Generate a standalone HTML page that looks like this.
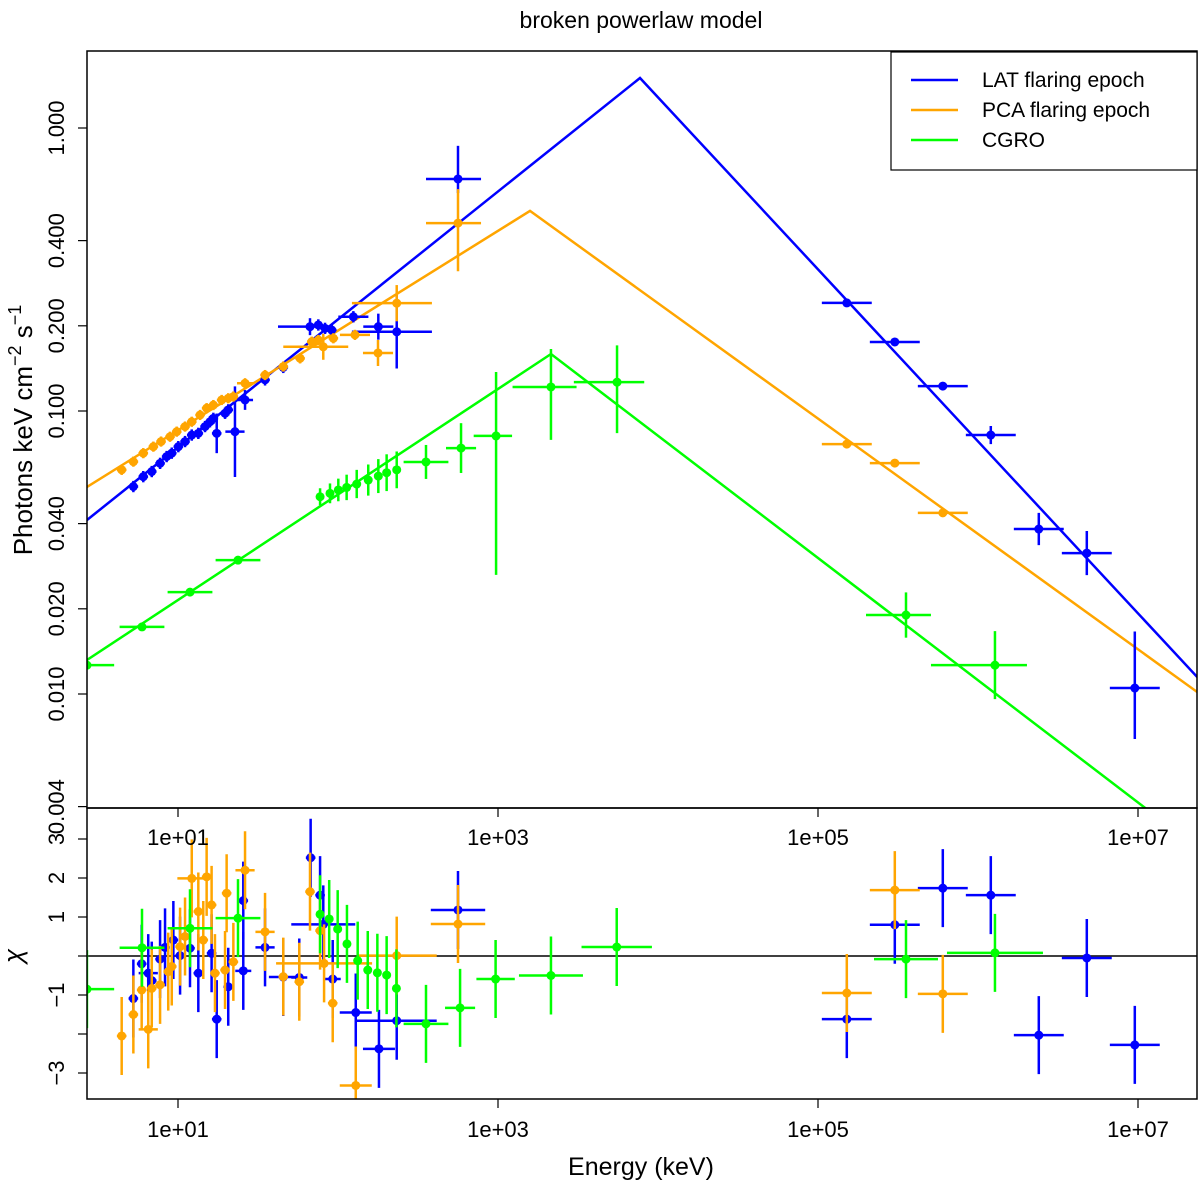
<!DOCTYPE html>
<html><head><meta charset="utf-8"><style>
html,body{margin:0;padding:0;background:#fff;}
svg text{font-family:"Liberation Sans",Arial,sans-serif;fill:#000;}
</style></head><body>
<svg id="chart" width="1200" height="1186" viewBox="0 0 1200 1186" xmlns="http://www.w3.org/2000/svg">
<defs>
<clipPath id="clipTop"><rect x="87" y="51" width="1110" height="757"/></clipPath>
<clipPath id="clipBot"><rect x="87" y="808" width="1110" height="291"/></clipPath>
</defs>
<rect x="0" y="0" width="1200" height="1186" fill="#fff"/>
<text x="641" y="28" font-size="23" text-anchor="middle">broken powerlaw model</text>
<text transform="translate(32,430) rotate(-90)" font-size="26" text-anchor="middle">Photons keV cm<tspan dy="-11" font-size="18">−2</tspan><tspan dy="11"> s</tspan><tspan dy="-11" font-size="18">−1</tspan></text>
<text transform="translate(22,956) rotate(-90)" font-size="26" text-anchor="middle" font-style="italic">χ</text>
<text x="641" y="1175" font-size="25" text-anchor="middle">Energy (keV)</text>
<g id="gTop" clip-path="url(#clipTop)"></g>
<g id="gBot" clip-path="url(#clipBot)"></g>
<g id="gAxes"></g>
<rect x="87" y="51" width="1110" height="757" fill="none" stroke="#000" stroke-width="1.5"/>
<rect x="87" y="808" width="1110" height="291" fill="none" stroke="#000" stroke-width="1.5"/>
<g>
<rect x="891" y="52" width="306" height="118" fill="#fff" stroke="#000" stroke-width="1.2"/>
<line x1="911" y1="80" x2="958" y2="80" stroke="#0000ff" stroke-width="2.5"/>
<text x="982" y="87" font-size="21">LAT flaring epoch</text>
<line x1="911" y1="110" x2="958" y2="110" stroke="#ffa500" stroke-width="2.5"/>
<text x="982" y="117" font-size="21">PCA flaring epoch</text>
<line x1="911" y1="140" x2="958" y2="140" stroke="#00ff00" stroke-width="2.5"/>
<text x="982" y="147" font-size="21">CGRO</text>
</g>
</svg>
<script>
// ---- model breakpoints (log10 keV, log10 flux) ----
const blueModelLogE=[0.431,3.8875,7.37];
const blueModelLogF=[-1.385,0.1767,-1.94];
const orangeModelLogE=[0.431,3.2,7.37];
const orangeModelLogF=[-1.2686,-0.293,-1.993];
const greenModelLogE=[0.431,3.331,7.37];
const greenModelLogF=[-1.88,-0.7986,-2.543];
// ---- LAT flaring epoch data ----
const blueLogE=[0.721,0.783,0.836,0.888,0.929,0.961,1.002,1.044,1.086,1.127,1.169,1.2,1.221,1.242,1.294,1.314,1.356,1.419,1.544,1.658,1.825,1.877,1.919,1.961,2.096,2.252,2.367,2.75,5.18,5.48,5.78,6.08,6.38,6.68,6.98];
const blueLogF=[-1.267,-1.232,-1.214,-1.185,-1.161,-1.149,-1.126,-1.108,-1.085,-1.079,-1.055,-1.038,-1.026,-1.079,-1.008,-0.996,-1.073,-0.961,-0.89,-0.846,-0.702,-0.696,-0.708,-0.714,-0.667,-0.702,-0.72,-0.18,-0.618,-0.756,-0.912,-1.085,-1.417,-1.502,-1.979];
const blueXLo=[0.03,0.03,0.03,0.03,0.03,0.03,0.03,0.03,0.03,0.03,0.03,0.03,0.03,0.03,0.03,0.03,0.06,0.05,0.03,0.03,0.2,0.03,0.03,0.03,0.094,0.094,0.28,0.2,0.156,0.156,0.156,0.156,0.156,0.156,0.156];
const blueXHi=[0.03,0.03,0.03,0.03,0.03,0.03,0.03,0.03,0.03,0.03,0.03,0.03,0.03,0.03,0.03,0.03,0.06,0.05,0.03,0.03,0.1,0.03,0.03,0.03,0.094,0.094,0.22,0.144,0.156,0.156,0.156,0.156,0.156,0.156,0.156];
const blueYLo=[0.02,0.02,0.02,0.02,0.02,0.02,0.02,0.02,0.02,0.02,0.02,0.02,0.02,0.07,0.02,0.02,0.16,0.035,0.02,0.02,0.03,0.02,0.02,0.02,0.02,0.046,0.13,0.05,0.01,0.01,0.01,0.032,0.057,0.078,0.18];
const blueYHi=[0.02,0.02,0.02,0.02,0.02,0.02,0.02,0.02,0.02,0.02,0.02,0.02,0.02,0.07,0.02,0.02,0.16,0.035,0.02,0.02,0.03,0.02,0.02,0.02,0.02,0.046,0.13,0.117,0.01,0.01,0.01,0.032,0.057,0.078,0.2];
// ---- PCA flaring epoch data ----
const orangeLogE=[0.648,0.721,0.783,0.846,0.894,0.95,0.992,1.044,1.086,1.138,1.179,1.221,1.273,1.314,1.346,1.419,1.544,1.658,1.763,1.836,1.877,1.908,1.971,2.106,2.25,2.367,2.75,5.18,5.48,5.78];
const orangeLogF=[-1.208,-1.179,-1.149,-1.126,-1.108,-1.091,-1.073,-1.055,-1.038,-1.014,-0.99,-0.979,-0.961,-0.955,-0.949,-0.902,-0.873,-0.843,-0.814,-0.755,-0.749,-0.773,-0.743,-0.731,-0.795,-0.619,-0.336,-1.117,-1.184,-1.36];
const orangeXLo=[0.03,0.03,0.03,0.03,0.03,0.03,0.03,0.03,0.03,0.03,0.03,0.03,0.03,0.03,0.03,0.05,0.03,0.03,0.03,0.03,0.03,0.25,0.03,0.094,0.094,0.28,0.2,0.156,0.156,0.156];
const orangeXHi=[0.03,0.03,0.03,0.03,0.03,0.03,0.03,0.03,0.03,0.03,0.03,0.03,0.03,0.03,0.03,0.05,0.03,0.03,0.03,0.03,0.03,0.156,0.03,0.094,0.094,0.22,0.144,0.156,0.156,0.156];
const orangeYLo=[0.018,0.018,0.018,0.018,0.018,0.018,0.018,0.018,0.018,0.018,0.018,0.018,0.018,0.018,0.018,0.018,0.018,0.018,0.018,0.018,0.018,0.046,0.018,0.018,0.046,0.064,0.17,0.01,0.01,0.01];
const orangeYHi=[0.018,0.018,0.018,0.018,0.018,0.018,0.018,0.018,0.018,0.018,0.018,0.018,0.018,0.018,0.018,0.018,0.018,0.018,0.018,0.018,0.018,0.046,0.018,0.018,0.046,0.064,0.12,0.01,0.01,0.01];
// ---- CGRO data ----
const greenLogE=[0.431,0.775,1.075,1.375,1.888,1.95,2.002,2.054,2.117,2.189,2.252,2.304,2.367,2.55,2.769,2.988,3.331,3.744,5.55,6.106];
const greenLogF=[-1.898,-1.763,-1.64,-1.527,-1.303,-1.291,-1.279,-1.27,-1.258,-1.244,-1.23,-1.218,-1.208,-1.18,-1.131,-1.088,-0.915,-0.898,-1.721,-1.898];
const greenXLo=[0.17,0.14,0.14,0.14,0.02,0.02,0.02,0.02,0.02,0.02,0.02,0.02,0.02,0.14,0.094,0.14,0.24,0.27,0.25,0.4];
const greenXHi=[0.17,0.14,0.14,0.14,0.02,0.02,0.02,0.02,0.02,0.02,0.02,0.02,0.02,0.14,0.094,0.1,0.16,0.17,0.156,0.2];
const greenYLo=[0.01,0.01,0.01,0.01,0.03,0.035,0.04,0.045,0.05,0.055,0.06,0.065,0.065,0.06,0.088,0.491,0.187,0.18,0.08,0.12];
const greenYHi=[0.01,0.01,0.01,0.01,0.03,0.035,0.04,0.045,0.05,0.055,0.06,0.065,0.065,0.06,0.088,0.226,0.134,0.13,0.08,0.12];
// ---- residuals (chi) ----
const blueResLogE=[0.721,0.773,0.814,0.836,0.888,0.919,0.971,1.013,1.075,1.127,1.21,1.242,1.314,1.408,1.408,1.544,1.658,1.758,1.829,1.888,1.908,1.967,2.111,2.256,2.367,2.75,5.18,5.48,5.78,6.08,6.38,6.68,6.98];
const blueResChi=[-1.09,-0.2,-0.44,-0.63,-0.08,0.22,0.41,0.01,0.2,-0.44,0.07,-1.62,-0.79,-0.38,1.42,0.22,-0.54,-0.55,2.52,1.56,0.81,-0.59,-1.45,-2.38,-1.66,1.18,-1.62,0.8,1.74,1.56,-2.03,-0.05,-2.28];
const blueResXErr=[0.03,0.03,0.06,0.03,0.03,0.03,0.03,0.03,0.03,0.03,0.03,0.03,0.03,0.05,0.03,0.06,0.09,0.05,0.03,0.03,0.2,0.05,0.1,0.1,0.25,0.17,0.156,0.156,0.156,0.156,0.156,0.156,0.156];
const orangeResLogE=[0.648,0.721,0.773,0.814,0.836,0.888,0.939,0.961,1.013,1.044,1.086,1.127,1.158,1.179,1.21,1.231,1.294,1.304,1.346,1.419,1.544,1.658,1.758,1.825,1.888,1.913,1.967,2.111,2.367,2.75,5.18,5.48,5.78];
const orangeResChi=[-2.05,-1.5,-0.87,-1.88,-0.83,-0.74,-0.4,-0.27,0.24,0.5,1.99,1.14,0.41,2.03,1.31,-0.44,-0.36,1.61,-0.15,2.2,0.62,-0.53,-0.66,1.65,0.65,-0.19,-1.21,-3.32,0.01,0.82,-0.95,1.69,-0.97];
const orangeResXErr=[0.03,0.03,0.03,0.06,0.03,0.03,0.03,0.03,0.03,0.03,0.09,0.03,0.03,0.03,0.03,0.03,0.03,0.03,0.03,0.06,0.06,0.03,0.03,0.03,0.03,0.3,0.03,0.1,0.25,0.17,0.156,0.156,0.156];
const greenResLogE=[0.431,0.775,1.075,1.375,1.888,1.945,1.998,2.056,2.123,2.186,2.246,2.304,2.365,2.55,2.763,2.985,3.331,3.742,5.55,6.106];
const greenResChi=[-0.85,0.21,0.71,0.97,1.07,0.95,0.69,0.31,-0.12,-0.36,-0.43,-0.49,-0.83,-1.74,-1.33,-0.59,-0.5,0.23,-0.08,0.08];
const greenResXErr=[0.17,0.14,0.14,0.14,0.02,0.02,0.02,0.02,0.02,0.02,0.02,0.02,0.02,0.14,0.094,0.12,0.2,0.22,0.2,0.3];
// ---- ticks ----
const yTickValues=[1.0,0.4,0.2,0.1,0.04,0.02,0.01,0.004];
const yTickLabels=["1.000","0.400","0.200","0.100","0.040","0.020","0.010","0.004"];
const xTickLogE=[1,3,5,7];
const xTickLabels=["1e+01","1e+03","1e+05","1e+07"];
const chiTickValues=[3,2,1,0,-1,-2,-3];
const chiTickLabelsShown=["3","2","1","","−1","","−3"];

const NS="http://www.w3.org/2000/svg";
function xs(le){return 178+160*(le-1);}
function ys(lf){return 128-283*lf;}
function yc(c){return 956-39*c;}
function mk(tag,attrs,parent){const e=document.createElementNS(NS,tag);for(const k in attrs)e.setAttribute(k,attrs[k]);parent.appendChild(e);return e;}
const gTop=document.getElementById('gTop'),gBot=document.getElementById('gBot'),gAxes=document.getElementById('gAxes');
const COL={blue:'#0000ff',orange:'#ffa500',green:'#00ff00'};

function model(name,le,lf,col){
  const pts=le.map((v,i)=>xs(v).toFixed(1)+','+ys(lf[i]).toFixed(1)).join(' ');
  const p=mk('polyline',{points:pts,fill:'none',stroke:col,'stroke-width':2.5},gTop);
  
  
}
function dataSeries(name,le,lf,xlo,xhi,ylo,yhi,col){
  const g=mk('g',{},gTop);
  
  
  le.forEach((v,i)=>{
    const cx=xs(v),cy=ys(lf[i]);
    mk('line',{x1:xs(v-xlo[i]),x2:xs(v+xhi[i]),y1:cy,y2:cy,stroke:col,'stroke-width':2.5},g);
    mk('line',{x1:cx,x2:cx,y1:ys(lf[i]+yhi[i]),y2:ys(lf[i]-ylo[i]),stroke:col,'stroke-width':2.5},g);
    const c=mk('circle',{cx:cx,cy:cy,r:4.5,fill:col},g);
    
    
  });
}
function resSeries(name,le,chi,xe,col){
  const g=mk('g',{},gBot);
  
  
  le.forEach((v,i)=>{
    const cx=xs(v),cy=yc(chi[i]);
    mk('line',{x1:xs(v-xe[i]),x2:xs(v+xe[i]),y1:cy,y2:cy,stroke:col,'stroke-width':2.5},g);
    mk('line',{x1:cx,x2:cx,y1:yc(chi[i]+1),y2:yc(chi[i]-1),stroke:col,'stroke-width':2.5},g);
    const c=mk('circle',{cx:cx,cy:cy,r:4.5,fill:col},g);
    
    
  });
}
model('lat',blueModelLogE,blueModelLogF,COL.blue);
model('pca',orangeModelLogE,orangeModelLogF,COL.orange);
model('cgro',greenModelLogE,greenModelLogF,COL.green);
dataSeries('cgro',greenLogE,greenLogF,greenXLo,greenXHi,greenYLo,greenYHi,COL.green);
dataSeries('lat',blueLogE,blueLogF,blueXLo,blueXHi,blueYLo,blueYHi,COL.blue);
dataSeries('pca',orangeLogE,orangeLogF,orangeXLo,orangeXHi,orangeYLo,orangeYHi,COL.orange);
const zl=mk('line',{x1:87,x2:1197,y1:yc(0),y2:yc(0),stroke:'#000','stroke-width':1.5},gBot);


resSeries('lat',blueResLogE,blueResChi,blueResXErr,COL.blue);
resSeries('pca',orangeResLogE,orangeResChi,orangeResXErr,COL.orange);
resSeries('cgro',greenResLogE,greenResChi,greenResXErr,COL.green);

// axes
yTickValues.forEach((v,i)=>{
  const y=ys(Math.log10(v));
  mk('line',{x1:78,x2:87,y1:y,y2:y,stroke:'#000','stroke-width':1.2},gAxes);
  const t=mk('text',{transform:'translate(64,'+y+') rotate(-90)','font-size':22,'text-anchor':'middle'},gAxes);
  t.textContent=yTickLabels[i];
  
  
});
chiTickValues.forEach((v,i)=>{
  const y=yc(v);
  mk('line',{x1:78,x2:87,y1:y,y2:y,stroke:'#000','stroke-width':1.2},gAxes);
  if(chiTickLabelsShown[i]){
    const t=mk('text',{transform:'translate(64,'+y+') rotate(-90)','font-size':22,'text-anchor':'middle'},gAxes);
    t.textContent=chiTickLabelsShown[i];
    
    
  }
});
xTickLogE.forEach((v,i)=>{
  const x=xs(v);
  mk('line',{x1:x,x2:x,y1:808,y2:817,stroke:'#000','stroke-width':1.2},gAxes);
  const t1=mk('text',{x:x,y:845,'font-size':22,'text-anchor':'middle'},gAxes);
  t1.textContent=xTickLabels[i];
  
  
  mk('line',{x1:x,x2:x,y1:1099,y2:1108,stroke:'#000','stroke-width':1.2},gAxes);
  const t2=mk('text',{x:x,y:1137,'font-size':22,'text-anchor':'middle'},gAxes);
  t2.textContent=xTickLabels[i];
  
  
});
</script>
</body></html>
